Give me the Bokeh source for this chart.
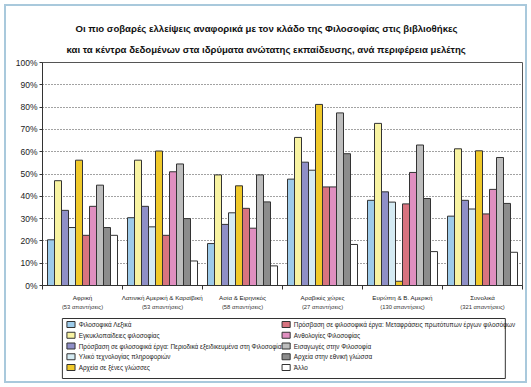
from bokeh.plotting import figure
from bokeh.layouts import column
from bokeh.core.properties import value
from bokeh.models import (Range1d, LinearAxis, FixedTicker, Title,
                          PrintfTickFormatter, ColumnDataSource)
from bokeh.transform import dodge
from bokeh.embed import file_html
from bokeh.resources import INLINE

# --- data -------------------------------------------------------------------
regions = ["Αφρική", "Λατινική Αμερική & Καραϊβική", "Ασία & Ειρηνικός",
           "Αραβικές χώρες", "Ευρώπη & Β. Αμερική", "Συνολικά"]
responses = ["(53 απαντήσεις)", "(53 απαντήσεις)", "(58 απαντήσεις)",
             "(27 απαντήσεις)", "(130 απαντήσεις)", "(321 απαντήσεις)"]

series_names = [
    "Φιλοσοφικά Λεξικά",
    "Εγκυκλοπαίδειες φιλοσοφίας",
    "Πρόσβαση σε φιλοσοφικά έργα: Περιοδικά εξειδικευμένα στη Φιλοσοφία",
    "Υλικό τεχνολογίας πληροφοριών",
    "Αρχεία σε ξένες γλώσσες",
    "Πρόσβαση σε φιλοσοφικά έργα: Μεταφράσεις πρωτότυπων έργων φιλοσόφων",
    "Ανθολογίες Φιλοσοφίας",
    "Εισαγωγές στην Φιλοσοφία",
    "Αρχεία στην εθνική γλώσσα",
    "Άλλο",
]

lexika        = [20.5, 30.4, 18.8, 47.7, 38.2, 31.1]
egkyklopaid   = [47.0, 56.2, 49.6, 66.4, 72.7, 61.3]
periodika     = [33.7, 35.5, 27.4, 55.3, 42.0, 38.2]
yliko_tp      = [26.0, 26.3, 32.6, 51.7, 37.4, 34.3]
xenes_glosses = [56.2, 60.3, 44.7, 81.2, 1.9, 60.4]
metafraseis   = [22.5, 22.5, 34.6, 44.2, 36.6, 32.1]
anthologies   = [35.5, 51.0, 25.7, 44.2, 50.7, 43.1]
eisagoges     = [45.0, 54.5, 49.6, 77.4, 63.0, 57.4]
ethniki       = [26.0, 30.0, 37.5, 59.1, 39.0, 36.8]
allo          = [22.5, 11.0, 8.8, 18.4, 15.2, 14.9]

series_values = [lexika, egkyklopaid, periodika, yliko_tp, xenes_glosses,
                 metafraseis, anthologies, eisagoges, ethniki, allo]

colors = ["#9dcbea", "#f8f3a2", "#8f8fc7", "#d5ebf3", "#f0c92a",
          "#d7737f", "#e08fc0", "#bdbdbd", "#8c8c8c", "#ffffff"]

y_ticks = [0, 10, 20, 30, 40, 50, 60, 70, 80, 90, 100]

FONT = "Liberation Sans"

# --- chart ------------------------------------------------------------------
# each region occupies one unit on x; region k is centred at k + 0.5
n_reg = len(regions)
centers = [k + 0.5 for k in range(n_reg)]
edges = list(range(n_reg + 1))

p = figure(width=531, height=312, output_backend="svg", toolbar_location=None,
           x_range=Range1d(0, n_reg), y_range=Range1d(0, 100),
           x_axis_location=None,
           min_border_left=42, min_border_right=9, min_border_top=62, min_border_bottom=23,
           background_fill_color="white", border_fill_alpha=0)
p.outline_line_color = "#555555"
p.outline_line_width = 1

data = {"pos": centers}
for i, vals in enumerate(series_values):
    data[f"s{i}"] = vals
src = ColumnDataSource(data)

n = len(series_values)
bar_w = 0.0875
for i, col in enumerate(colors):
    off = -bar_w * n / 2 + bar_w * (i + 0.5)
    p.vbar(x=dodge("pos", off), top=f"s{i}", width=bar_w,
           source=src, fill_color=col, line_color="#333333", line_width=1)

# y axis
yax = p.yaxis[0]
yax.ticker = FixedTicker(ticks=y_ticks)
yax.formatter = PrintfTickFormatter(format="%d%%")
yax.major_label_text_font = FONT
yax.major_label_text_font_size = "8.5px"
yax.major_label_text_color = "#222222"
yax.major_tick_in = 0
yax.major_tick_out = 3
yax.minor_tick_line_color = None
yax.axis_line_color = "#333333"
yax.major_tick_line_color = "#333333"
yax.major_label_standoff = 2

p.xgrid.visible = False
p.ygrid.ticker = FixedTicker(ticks=y_ticks)
p.ygrid.grid_line_color = "#444444"
p.ygrid.grid_line_dash = "1 2"

# x axes: region names (ticks at region boundaries), response counts
name_ax = LinearAxis(ticker=FixedTicker(ticks=centers, minor_ticks=edges),
                     major_label_overrides=dict(zip(centers, regions)),
                     axis_line_color="#333333",
                     major_tick_line_color=None, major_tick_in=0, major_tick_out=0,
                     minor_tick_line_color="#333333", minor_tick_in=0, minor_tick_out=4,
                     major_label_text_font=FONT, major_label_text_font_size="6.2px",
                     major_label_text_color="#222222", major_label_standoff=4)
p.add_layout(name_ax, "below")

count_ax = LinearAxis(ticker=FixedTicker(ticks=centers),
                      major_label_overrides=dict(zip(centers, responses)),
                      axis_line_color=None, major_tick_line_color=None,
                      major_tick_in=0, major_tick_out=0,
                      minor_tick_line_color=None,
                      major_label_text_font=FONT, major_label_text_font_size="5.8px",
                      major_label_text_color="#333333", major_label_standoff=0)
p.add_layout(count_ax, "below")

# two-line title
title_1 = "Οι πιο σοβαρές ελλείψεις αναφορικά με τον κλάδο της Φιλοσοφίας στις βιβλιοθήκες"
title_2 = "και τα κέντρα δεδομένων στα ιδρύματα ανώτατης εκπαίδευσης, ανά περιφέρεια μελέτης"
p.add_layout(Title(text=title_2, align="left", offset=24, standoff=16,
                   text_font=FONT, text_font_style="bold", text_font_size="9.6px",
                   text_color="#111111"), "above")
p.add_layout(Title(text=title_1, align="left", offset=33, standoff=0,
                   text_font=FONT, text_font_style="bold", text_font_size="9.6px",
                   text_color="#111111"), "above")

# --- legend strip: pixel coordinates, y pointing down -----------------------
leg = figure(width=531, height=75, output_backend="svg", toolbar_location=None,
             x_range=Range1d(0, 531), y_range=Range1d(75, 0),
             x_axis_location=None, y_axis_location=None, min_border=0,
             outline_line_color=None, background_fill_alpha=0, border_fill_alpha=0)
leg.grid.visible = False

box_left, box_right, box_top, box_bottom = 22, 512, 6, 66
col_x = [27, 265]          # swatch left edge of each legend column
row_y0, row_step = 12, 10.75
per_col = 5

leg.quad(left=[box_left], right=[box_right], top=[box_top], bottom=[box_bottom],
         fill_color="white", line_color="#333333", line_width=1)

sw_x = [col_x[i // per_col] for i in range(len(series_names))]
sw_y = [row_y0 + row_step * (i % per_col) for i in range(len(series_names))]
leg.rect(x=[x + 4.5 for x in sw_x], y=sw_y, width=9, height=6,
         fill_color=colors, line_color="#333333", line_width=1)
leg.text(x=[x + 13 for x in sw_x], y=sw_y, text=series_names,
         text_baseline="middle", text_align="left",
         text_font=value(FONT), text_font_size="6.4px", text_color="#222222")

# page: chart above legend, inside a light blue frame
page = column(p, leg, spacing=0,
              styles={"background-color": "white",
                      "box-shadow": "inset 0 0 0 4px white, inset 0 0 0 6px #a9c9dc"})

open("out.html", "w").write(file_html(page, INLINE))
